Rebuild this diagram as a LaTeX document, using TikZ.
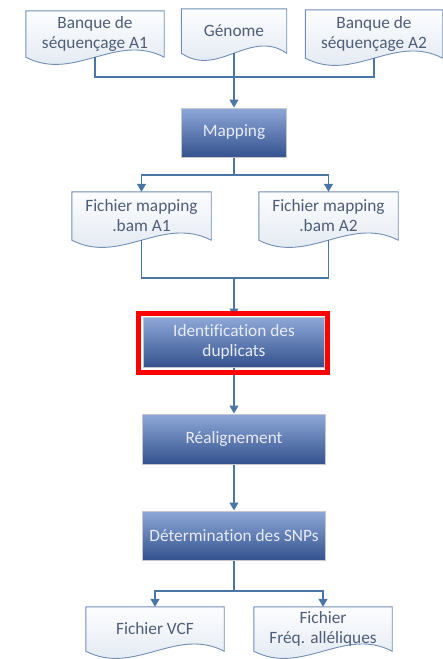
\documentclass[tikz,border=0pt]{standalone}
\usepackage{fontspec}
\setmainfont{Carlito}[Ligatures={NoCommon}]
\usetikzlibrary{arrows.meta,calc}
\pgfdeclarelayer{background}
\pgfsetlayers{background,main}
\definecolor{connc}{RGB}{74,118,166}
\definecolor{docborder}{RGB}{112,142,182}
\definecolor{doctop}{RGB}{252,253,255}
\definecolor{docbot}{RGB}{221,229,239}
\definecolor{doctext}{RGB}{78,94,120}
\definecolor{proctop}{RGB}{142,168,216}
\definecolor{procbot}{RGB}{52,82,142}
\definecolor{procborder}{RGB}{196,200,206}
\definecolor{proctext}{RGB}{232,236,244}
\newcommand\docshape[1]{%
  \path[docfill] (#1.north west) -- (#1.north east) -- (#1.south east)
    .. controls ($(#1.south east)!0.35!(#1.south west)+(0,-25)$)
           and ($(#1.south east)!0.65!(#1.south west)+(0,25)$) .. (#1.south west) -- cycle;}
\begin{document}
\begin{tikzpicture}[x=1pt,y=-1pt,
  font=\fontsize{17.3}{20}\selectfont,
  docnode/.style={inner sep=0pt, align=center, text=doctext},
  docfill/.style={draw=docborder, line width=0.9pt, top color=doctop, bottom color=docbot},
  process/.style={draw=procborder, line width=1pt, top color=proctop, bottom color=procbot,
    text=proctext, align=center, inner sep=0pt},
  conn/.style={draw=connc, line width=1.2pt},
  arr/.style={conn, -{Triangle[length=8pt,width=9pt]}}]
\useasboundingbox (0,0) rectangle (443,659);
% documents
\node[docnode, minimum width=138pt, minimum height=46pt] (a1) at (95,34) {Banque de\\séquençage A1};
\node[docnode, minimum width=105pt, minimum height=44pt] (gen) at (234,31) {Génome};
\node[docnode, minimum width=137pt, minimum height=48pt] (a2) at (374,34) {Banque de\\séquençage A2};
\node[docnode, minimum width=139pt, minimum height=48pt] (f1) at (141.5,216) {Fichier mapping\\.bam A1};
\node[docnode, minimum width=139pt, minimum height=48pt] (f2) at (328.5,216) {Fichier mapping\\.bam A2};
\node[docnode, minimum width=138pt, minimum height=44pt] (v) at (155,629) {Fichier VCF};
\node[docnode, minimum width=138pt, minimum height=44pt] (fr) at (323,629) {Fichier\\Fréq. alléliques};
\begin{pgfonlayer}{background}
\foreach \n in {a1,gen,a2,f1,f2,v,fr}{\docshape{\n}}
\end{pgfonlayer}
% processes
\node[process, minimum width=105pt, minimum height=49pt] (map) at (234,132.5) {Mapping};
\node[process, minimum width=181pt, minimum height=50pt] (ident) at (234,342) {Identification des\\duplicats};
\node[process, minimum width=183pt, minimum height=50pt] (real) at (234,439) {Réalignement};
\node[process, minimum width=183pt, minimum height=49pt] (det) at (234,535.5) {Détermination des SNPs};
% connectors
\coordinate (j1) at (234,77);
\coordinate (j2) at (234,175);
\coordinate (j3) at (234,278);
\coordinate (j4) at (234,591);
\draw[conn] (a1.south) |- (j1) -| (a2.south);
\draw[arr] (gen.south) -- (map.north);
\draw[conn] (map.south) -- (j2);
\draw[arr] (j2) -| (f1.north);
\draw[arr] (j2) -| (f2.north);
\draw[conn] (f1.south) |- (j3) -| (f2.south);
\draw[arr] (j3) -- (ident.north);
\draw[arr] (ident.south) -- (real.north);
\draw[arr] (real.south) -- (det.north);
\draw[conn] (det.south) -- (j4);
\draw[arr] (j4) -| (v.north);
\draw[arr] (j4) -| (fr.north);
% highlight frame
\draw[red, line width=4.5pt] ($(ident.north west)+(-4.5,-3)$) rectangle ($(ident.south east)+(2.5,5)$);
\end{tikzpicture}
\end{document}
